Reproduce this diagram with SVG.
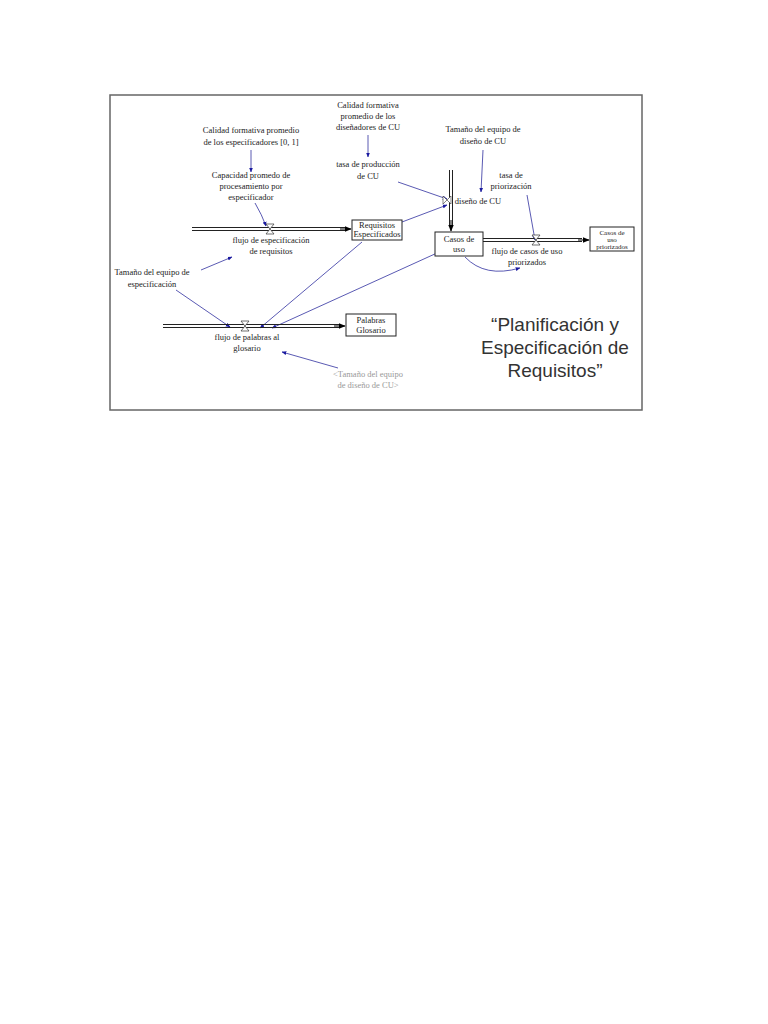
<svg xmlns="http://www.w3.org/2000/svg" width="768" height="1024" viewBox="0 0 768 1024">
<defs>
<marker id="b" viewBox="0 0 10 10" refX="9" refY="5" markerWidth="6" markerHeight="6" orient="auto"><path d="M0,1 L10,5 L0,9 z" fill="#1a1aa0"/></marker>
<marker id="k" viewBox="0 0 10 10" refX="9" refY="5" markerWidth="7" markerHeight="7" orient="auto"><path d="M0,1 L10,5 L0,9 z" fill="#000"/></marker>
</defs>
<style>
text{font-family:"Liberation Serif",serif;font-size:8.5px;fill:#222;text-anchor:middle}
.s{font-size:7px}
.t{font-family:"Liberation Sans",sans-serif;font-size:19px;fill:#333}
.g{fill:#999}
.box{fill:#fff;stroke:#222;stroke-width:1}
.l{stroke:#3030a0;stroke-width:0.8;fill:none;marker-end:url(#b)}
.p{stroke:#222;stroke-width:1;fill:none}
</style>
<rect width="768" height="1024" fill="#fff"/>
<rect x="110" y="95" width="532" height="315" fill="#fff" stroke="#666" stroke-width="1.5"/>
<g id="connectors">
<path class="l" d="M251,150 L251,172"/>
<path class="l" d="M368,135 L368,157"/>
<path class="l" d="M255,203 Q262,215 266,226"/>
<path class="l" d="M398,182 L447,199"/>
<path class="l" d="M402,222 L447,205"/>
<path class="l" d="M483,150 L481,192"/>
<path class="l" d="M527,195 L535,240"/>
<path class="l" d="M465,257 Q485,278 520,268"/>
<path class="l" d="M201,270 L232,257"/>
<path class="l" d="M176,290 L230,327"/>
<path class="l" d="M362,242 L260,328"/>
<path class="l" d="M437,253 L272,328"/>
<path class="l" d="M338,368 L282,352"/>
</g>
<g id="flow1">
<path class="p" d="M192,227.5 H346 M192,230.5 H346"/>
<path d="M340,229 H351" stroke="#000" marker-end="url(#k)"/>
<path d="M266,224 H274 L266,234 H274 Z" fill="#fff" stroke="#333" stroke-width="0.7"/>
<text x="271" y="243">flujo de especificación</text><text x="271" y="254">de requisitos</text>
</g>
<g id="flow2">
<path class="p" d="M163,324.5 H340 M163,327.5 H340"/>
<path d="M334,326 H345" stroke="#000" marker-end="url(#k)"/>
<path d="M241,321 H249 L241,331 H249 Z" fill="#fff" stroke="#333" stroke-width="0.7"/>
<text x="247" y="340">flujo de palabras al</text><text x="247" y="351">glosario</text>
</g>
<g id="flow3">
<path class="p" d="M449.5,170 V226 M452.5,170 V226"/>
<path d="M451,220 V231" stroke="#000" marker-end="url(#k)"/>
<path d="M443,196 V204 L451,196 V204 Z" fill="#fff" stroke="#333" stroke-width="0.6"/>
<text x="478" y="204">diseño de CU</text>
</g>
<g id="flow4">
<path class="p" d="M483,238.5 H582 M483,241.5 H582"/>
<path d="M578,240 H589" stroke="#000" marker-end="url(#k)"/>
<path d="M532,235 H540 L532,245 H540 Z" fill="#fff" stroke="#333" stroke-width="0.7"/>
<text x="527" y="254">flujo de casos de uso</text><text x="527" y="265">priorizados</text>
</g>
<g id="req"><rect class="box" x="352" y="220" width="50" height="20"/><text x="377" y="228">Requisitos</text><text x="377" y="237">Especificados</text></g>
<g id="cu"><rect class="box" x="435" y="232" width="48" height="24"/><text x="459" y="242">Casos de</text><text x="459" y="252">uso</text></g>
<g id="cup"><rect class="box" x="590" y="227" width="44" height="24"/><text class="s" x="612" y="234.5">Casos de</text><text class="s" x="612" y="241.5">uso</text><text class="s" x="612" y="248.5">priorizados</text></g>
<g id="pal"><rect class="box" x="346" y="314" width="50" height="22"/><text x="371" y="323">Palabras</text><text x="371" y="333">Glosario</text></g>
<g id="v1"><text x="251" y="133">Calidad formativa promedio</text><text x="251" y="145">de los especificadores [0, 1]</text></g>
<g id="v2"><text x="251" y="178">Capacidad promedo de</text><text x="251" y="189">procesamiento por</text><text x="251" y="200">especificador</text></g>
<g id="v3"><text x="368" y="108">Calidad formativa</text><text x="368" y="119">promedio de los</text><text x="368" y="130">diseñadores de CU</text></g>
<g id="v4"><text x="368" y="167">tasa de producción</text><text x="368" y="179">de CU</text></g>
<g id="v5"><text x="483" y="132">Tamaño del equipo de</text><text x="483" y="144">diseño de CU</text></g>
<g id="v6"><text x="511" y="178">tasa de</text><text x="511" y="189">priorización</text></g>
<g id="v7"><text x="152" y="275">Tamaño del equipo de</text><text x="152" y="287">especificación</text></g>
<g id="v8"><text class="g" x="368" y="377">&lt;Tamaño del equipo</text><text class="g" x="368" y="388">de diseño de CU&gt;</text></g>
<g id="title"><text class="t" x="555" y="331">“Planificación y</text><text class="t" x="555" y="354">Especificación de</text><text class="t" x="555" y="377">Requisitos”</text></g>
</svg>
